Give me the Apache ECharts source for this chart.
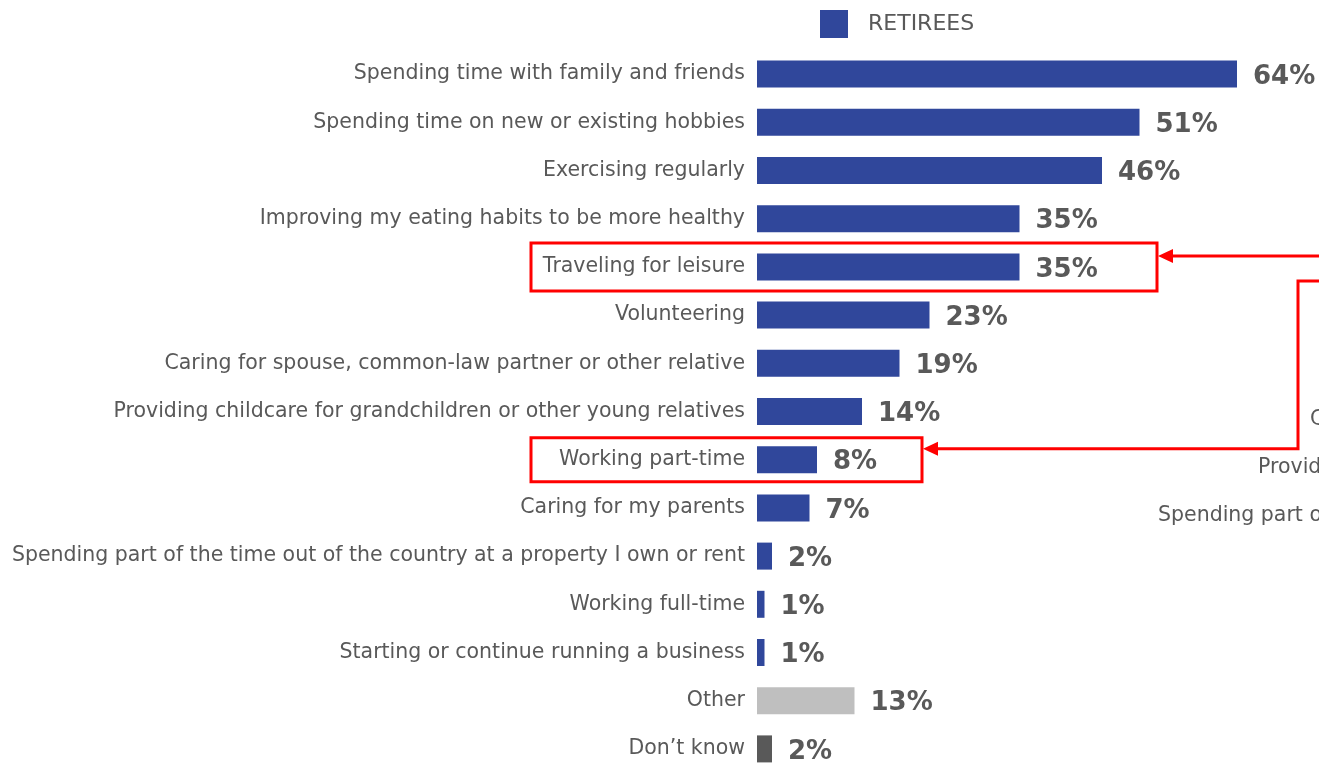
<!DOCTYPE html>
<html>
<head>
<meta charset="utf-8">
<script src="https://cdn.jsdelivr.net/npm/echarts@6/dist/echarts.min.js"></script>
<style>
  html, body { margin: 0; padding: 0; background: #fff; }
  #chart { width: 1319px; height: 763px; }
</style>
</head>
<body>
<div id="chart"></div>
<script>
// 数据
const categories = [
  'Spending time with family and friends',
  'Spending time on new or existing hobbies',
  'Exercising regularly',
  'Improving my eating habits to be more healthy',
  'Traveling for leisure',
  'Volunteering',
  'Caring for spouse, common-law partner or other relative',
  'Providing childcare for grandchildren or other young relatives',
  'Working part-time',
  'Caring for my parents',
  'Spending part of the time out of the country at a property I own or rent',
  'Working full-time',
  'Starting or continue running a business',
  'Other',
  'Don\u2019t know'
];
const retirees = [64, 51, 46, 35, 35, 23, 19, 14, 8, 7, 2, 1, 1, 13, 2];
const barColors = {
  'Other': '#bfbfbf',
  'Don\u2019t know': '#595959'
};
// 被截断的右侧图表文字
const cutLabels = [
  { text: 'Caring for spouse, common-law partner', x: 1310, y: 420 },
  { text: 'Providing childcare for grandchildren', x: 1258, y: 468 },
  { text: 'Spending part of the time out of the country', x: 1158, y: 516 }
];
const highlighted = ['Traveling for leisure', 'Working part-time'];

const BLUE = '#30479b';
const GREY = '#595959';
const RED = '#ff0000';
const FONT = 'DejaVu Sans';
const CAT_SIZE = 20.5;

const chart = echarts.init(document.getElementById('chart'));

chart.setOption({
  backgroundColor: '#fff',
  animation: false,
  textStyle: { fontFamily: FONT },
  legend: {
    data: ['RETIREES'],
    left: 815, top: 5,
    itemWidth: 28, itemHeight: 28,
    icon: 'rect',
    textStyle: { color: GREY, fontSize: 22, fontFamily: FONT, padding: [0, 0, 0, 15] }
  },
  grid: { left: 757, top: 50, width: 750, height: 723, outerBoundsMode: 'none', containLabel: false },
  xAxis: { type: 'value', min: 0, max: 100, show: false },
  yAxis: {
    type: 'category', inverse: true, data: categories,
    axisLine: { show: false }, axisTick: { show: false },
    axisLabel: { color: GREY, fontSize: CAT_SIZE, margin: 12, fontFamily: FONT }
  },
  series: [{
    name: 'RETIREES', type: 'bar', barWidth: 27,
    itemStyle: { color: BLUE },
    data: retirees.map((v, i) => ({
      value: v,
      itemStyle: barColors[categories[i]] ? { color: barColors[categories[i]] } : undefined
    })),
    label: {
      show: true, position: 'right', distance: 16, offset: [0, 3],
      formatter: '{c}%', color: GREY, fontSize: 26, fontWeight: 'bold', fontFamily: FONT
    }
  }]
});

// 标注框和箭头
function drawAnnotations() {
  const yA = chart.convertToPixel({ yAxisIndex: 0 }, highlighted[0]);
  const yB = chart.convertToPixel({ yAxisIndex: 0 }, highlighted[1]);
  const lineStyle = { stroke: RED, lineWidth: 3, fill: null };
  const elements = [
    { type: 'rect', shape: { x: 531, y: yA - 24, width: 626, height: 48 }, style: lineStyle },
    { type: 'rect', shape: { x: 531, y: yB - 22, width: 391, height: 44 }, style: lineStyle },
    { type: 'polyline', shape: { points: [[1319, yA - 11], [1170, yA - 11]] }, style: lineStyle },
    { type: 'polygon', shape: { points: [[1158, yA - 11], [1173, yA - 18], [1173, yA - 4]] }, style: { fill: RED } },
    { type: 'polyline', shape: { points: [[1319, 281], [1298, 281], [1298, yB - 11], [935, yB - 11]] }, style: lineStyle },
    { type: 'polygon', shape: { points: [[923, yB - 11], [938, yB - 18], [938, yB - 4]] }, style: { fill: RED } }
  ];
  cutLabels.forEach(l => elements.push({
    type: 'text', x: l.x, y: l.y,
    style: { text: l.text, fill: GREY, font: CAT_SIZE + 'px "' + FONT + '"', verticalAlign: 'middle' }
  }));
  chart.setOption({ graphic: { elements } });
}
drawAnnotations();
</script>
</body>
</html>
